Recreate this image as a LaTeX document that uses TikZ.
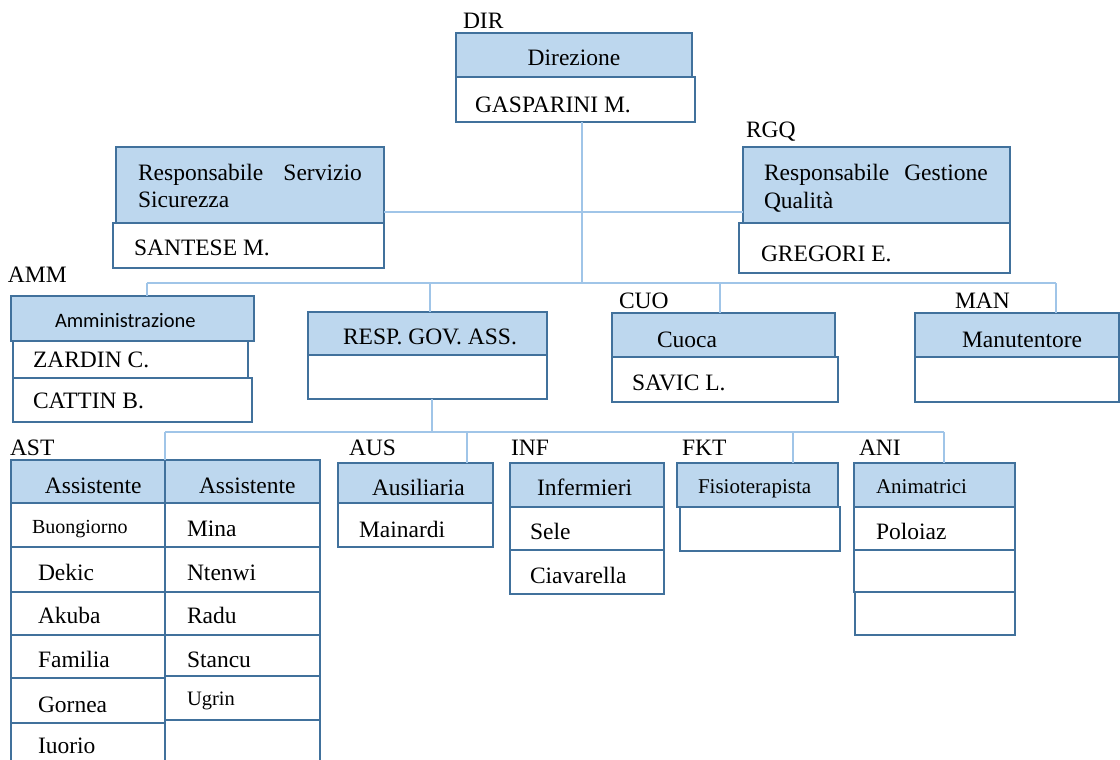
\documentclass[tikz,border=0pt]{standalone}
\usepackage{fontspec}
\setmainfont{Liberation Serif}
\newfontfamily\calib{Carlito}
\definecolor{hdrfill}{RGB}{189,215,238}
\definecolor{bord}{RGB}{65,113,156}
\definecolor{connc}{RGB}{160,197,232}
\newcommand\orgbox[6]{\node[#2,anchor=north west,minimum width={(#5)-(#3)},minimum height={(#6)-(#4)}] (#1) at (#3,#4) {};}
\tikzset{
  hdr/.style={draw=bord,fill=hdrfill,line width=2.6pt,inner sep=0pt,outer sep=0pt},
  cell/.style={draw=bord,fill=white,line width=2.6pt,inner sep=0pt,outer sep=0pt},
  lbl/.style={anchor=base west,inner sep=0pt,outer sep=0pt},
  small/.style={font=\fontsize{21}{25}\selectfont},
  conn/.style={draw=connc,line width=1.6pt}
}
\begin{document}
\begin{tikzpicture}[x=1pt,y=-1pt,font=\fontsize{23.5}{28}\selectfont]
\useasboundingbox[fill=white] (0,0) rectangle (1120,760);
% ---------- connectors ----------
\coordinate (busA) at (582,212);
\coordinate (busL) at (147,283);
\coordinate (busR) at (1056,283);
\coordinate (bus2L) at (165,432);
\coordinate (bus2R) at (944,432);
% ---------- Direzione ----------
\orgbox{dirB}{cell}{456}{77}{695}{122}
\orgbox{dirH}{hdr}{456}{33}{692}{77}
\node[lbl] (tDIR) at (463,29) {DIR};
\node[anchor=base] (tDirez) at (574,66) {Direzione};
\node[lbl] (tGasp) at (475,112) {GASPARINI M.};
% ---------- Sicurezza ----------
\orgbox{rssB}{cell}{113}{223}{384}{268}
\orgbox{rssH}{hdr}{116}{147}{384}{223}
\node[lbl] (tRss1) at (138,180) {Responsabile};
\node[anchor=base east,inner sep=0pt] (tRss2) at (362,180) {Servizio};
\node[lbl] (tRss3) at (138,207) {Sicurezza};
\node[lbl] (tSant) at (134,255) {SANTESE M.};
% ---------- Qualita ----------
\orgbox{rgqB}{cell}{739}{223}{1010}{273}
\orgbox{rgqH}{hdr}{743}{147}{1010}{223}
\node[lbl] (tRGQ) at (746,137) {RGQ};
\node[lbl] (tRgq1) at (764,180) {Responsabile};
\node[anchor=base east,inner sep=0pt] (tRgq2) at (988,180) {Gestione};
\node[lbl] (tRgq3) at (764,208) {Qualità};
\node[lbl] (tGreg) at (761,261) {GREGORI E.};
% connectors top
\draw[conn] (dirB.south -| busA) -- (busL -| busA);
\draw[conn] (rssH.east |- busA) -- (rgqH.west |- busA);
\draw[conn] (busL) -- (busR);
% ---------- Amministrazione ----------
\orgbox{ammB1}{cell}{13}{341}{248}{378}
\orgbox{ammB2}{cell}{13}{378}{252}{422}
\orgbox{ammH}{hdr}{11}{296}{254}{341}
\node[lbl] (tAMM) at (8,282) {AMM};
\node[lbl,font=\calib\fontsize{20.5}{24}\selectfont] (tAmm) at (55,327) {Amministrazione};
\node[lbl] (tZard) at (33,367) {ZARDIN C.};
\node[lbl] (tCatt) at (33,408) {CATTIN B.};
% ---------- RESP GOV ASS ----------
\orgbox{respB}{cell}{308}{355}{547}{399}
\orgbox{respH}{hdr}{308}{312}{547}{355}
\node[lbl] (tResp) at (343,344) {RESP. GOV. ASS.};
% ---------- Cuoca ----------
\orgbox{cuoB}{cell}{612}{357}{838}{402}
\orgbox{cuoH}{hdr}{612}{313}{835}{357}
\node[lbl] (tCUO) at (619,308) {CUO};
\node[lbl] (tCuoca) at (657,347) {Cuoca};
\node[lbl] (tSavic) at (632,390) {SAVIC L.};
% ---------- Manutentore ----------
\orgbox{manB}{cell}{915}{357}{1119}{402}
\orgbox{manH}{hdr}{915}{313}{1119}{357}
\node[lbl] (tMAN) at (955,308) {MAN};
\node[lbl] (tManu) at (962,347) {Manutentore};
% drops
\draw[conn] (busL) -- (ammH.north -| busL);
\draw[conn] (respH.north -| 430,0) -- (busL -| 430,0);
\draw[conn] (cuoH.north -| 720,0) -- (busL -| 720,0);
\draw[conn] (busR) -- (manH.north -| busR);
% ---------- AST ----------
\orgbox{astL1}{cell}{11}{503}{165}{547}
\orgbox{astL2}{cell}{11}{547}{165}{592}
\orgbox{astL3}{cell}{11}{592}{165}{635}
\orgbox{astL4}{cell}{11}{635}{165}{678}
\orgbox{astL5}{cell}{11}{678}{165}{723}
\orgbox{astL6}{cell}{11}{723}{165}{775}
\orgbox{astR1}{cell}{165}{503}{320}{547}
\orgbox{astR2}{cell}{165}{547}{320}{592}
\orgbox{astR3}{cell}{165}{592}{320}{635}
\orgbox{astR4}{cell}{165}{635}{320}{676}
\orgbox{astR5}{cell}{165}{676}{320}{720}
\orgbox{astR6}{cell}{165}{720}{320}{775}
\orgbox{astHL}{hdr}{11}{460}{165}{503}
\orgbox{astHR}{hdr}{165}{460}{320}{503}
\node[lbl] (tAST) at (10,455) {AST};
\node[lbl] (tAss1) at (45,493) {Assistente};
\node[lbl] (tAss2) at (199,493) {Assistente};
\node[lbl,font=\fontsize{20}{24}\selectfont] (tBuon) at (32,533) {Buongiorno};
\node[lbl] (tDek) at (38,580) {Dekic};
\node[lbl] (tAku) at (38,623) {Akuba};
\node[lbl] (tFam) at (38,667) {Familia};
\node[lbl] (tGor) at (38,712) {Gornea};
\node[lbl] (tIuo) at (38,753) {Iuorio};
\node[lbl] (tMina) at (187,536) {Mina};
\node[lbl] (tNten) at (187,580) {Ntenwi};
\node[lbl] (tRadu) at (187,623) {Radu};
\node[lbl] (tStan) at (187,667) {Stancu};
\node[lbl,font=\fontsize{20.5}{24}\selectfont] (tUgr) at (187,705) {Ugrin};
% ---------- AUS ----------
\orgbox{ausB}{cell}{338}{503}{493}{547}
\orgbox{ausH}{hdr}{338}{463}{493}{503}
\node[lbl] (tAUS) at (349,455) {AUS};
\node[lbl] (tAusi) at (372,495) {Ausiliaria};
\node[lbl] (tMain) at (359,537) {Mainardi};
% ---------- INF ----------
\orgbox{infB1}{cell}{510}{507}{664}{550}
\orgbox{infB2}{cell}{510}{550}{664}{594}
\orgbox{infH}{hdr}{510}{463}{664}{507}
\node[lbl] (tINF) at (511,455) {INF};
\node[lbl] (tInfe) at (537,495) {Infermieri};
\node[lbl] (tSele) at (530,539) {Sele};
\node[lbl] (tCiav) at (530,583) {Ciavarella};
% ---------- FKT ----------
\orgbox{fktB}{cell}{680}{507}{840}{551}
\orgbox{fktH}{hdr}{677}{463}{838}{507}
\node[lbl] (tFKT) at (682,455) {FKT};
\node[lbl,small] (tFisi) at (698,493) {Fisioterapista};
% ---------- ANI ----------
\orgbox{aniB1}{cell}{854}{507}{1015}{550}
\orgbox{aniB2}{cell}{854}{550}{1015}{592}
\orgbox{aniB3}{cell}{855}{592}{1015}{635}
\orgbox{aniH}{hdr}{854}{463}{1015}{507}
\node[lbl] (tANI) at (859,455) {ANI};
\node[lbl,small] (tAnim) at (876,493) {Animatrici};
\node[lbl] (tPolo) at (876,539) {Poloiaz};
% lower connectors
\draw[conn] (respB.south -| 432,0) -- (bus2L -| 432,0);
\draw[conn] (bus2L) -- (bus2R);
\draw[conn] (bus2L) -- (astHR.north west);
\draw[conn] (ausH.north -| 467,0) -- (bus2L -| 467,0);
\draw[conn] (fktH.north -| 793,0) -- (bus2L -| 793,0);
\draw[conn] (bus2R) -- (aniH.north -| bus2R);
\end{tikzpicture}
\end{document}
